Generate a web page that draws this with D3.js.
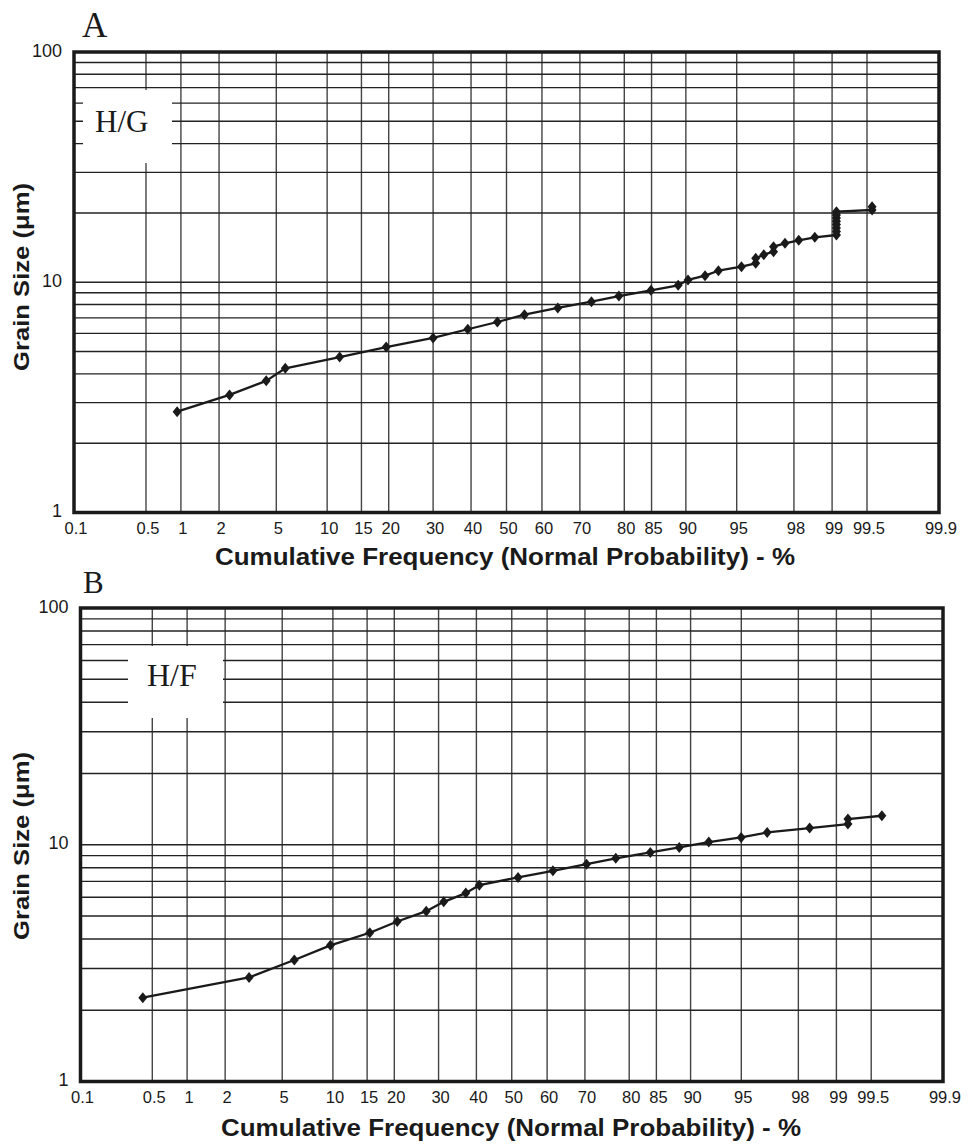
<!DOCTYPE html>
<html>
<head>
<meta charset="utf-8">
<script src="https://cdn.jsdelivr.net/npm/d3@7"></script>
<style>
  html, body { margin: 0; padding: 0; background: #fff; }
  svg { display: block; }
  text { font-family: "Liberation Sans", Arial, sans-serif; fill: #1a1a1a; }
  .serif { font-family: "Liberation Serif", "Times New Roman", serif; }
</style>
</head>
<body>
<svg id="chart" width="968" height="1144"></svg>
<script>
// ---------------- DATA ----------------
const xTickLabels = [0.1, 0.5, 1, 2, 5, 10, 15, 20, 30, 40, 50, 60, 70, 80, 85, 90, 95, 98, 99, 99.5, 99.9];
const yGridValues = [2, 3, 4, 5, 6, 7, 8, 9, 10, 20, 30, 40, 50, 60, 70, 80, 90];
const yTickLabels = [1, 10, 100];

// Panel A (H/G)
const pctA  = [0.93, 2.39, 4.30, 5.7, 11.66, 19.5, 30.0, 39.1, 47.4, 55.1, 64.3, 72.8, 78.9, 84.9, 89.0,
               90.27, 92.2, 93.5, 95.34, 96.25, 96.25, 96.7, 97.18, 97.18, 97.67, 98.16, 98.62,
               99.08, 99.08, 99.08, 99.08, 99.08, 99.08, 99.08, 99.08, 99.55, 99.55];
const sizeA = [2.74, 3.24, 3.73, 4.23, 4.73, 5.23, 5.73, 6.25, 6.72, 7.23, 7.73, 8.23, 8.71, 9.22, 9.70,
               10.23, 10.68, 11.22, 11.68, 12.09, 12.70, 13.18, 13.57, 14.27, 14.76, 15.21, 15.67,
               16.04, 16.6, 17.2, 17.8, 18.4, 19.0, 19.6, 20.25, 20.6, 21.3];

// Panel B (H/F)
const pctB  = [0.41, 2.99, 5.96, 9.69, 15.45, 20.6, 27.0, 31.3, 37.1, 40.8, 51.8, 61.6, 70.4, 77.2,
               83.96, 88.5, 92.1, 94.99, 96.64, 98.36, 99.2, 99.2, 99.6];
const sizeB = [2.26, 2.75, 3.26, 3.76, 4.25, 4.74, 5.24, 5.74, 6.25, 6.75, 7.28, 7.76, 8.28, 8.76,
               9.28, 9.74, 10.26, 10.74, 11.27, 11.76, 12.23, 12.84, 13.26];

const panelLetters = ["A", "B"];
const sampleNames = ["H/G", "H/F"];
const xTitle = "Cumulative Frequency (Normal Probability) - %";
const yTitle = "Grain Size (μm)";

// ---------------- inverse normal CDF (probit) ----------------
function probit(p) {
  const a = [-3.969683028665376e+01, 2.209460984245205e+02, -2.759285104469687e+02, 1.383577518672690e+02, -3.066479806614716e+01, 2.506628277459239e+00];
  const b = [-5.447609879822406e+01, 1.615858368580409e+02, -1.556989798598866e+02, 6.680131188771972e+01, -1.328068155288572e+01];
  const c = [-7.784894002430293e-03, -3.223964580411365e-01, -2.400758277161838e+00, -2.549732539343734e+00, 4.374664141464968e+00, 2.938163982698783e+00];
  const d = [7.784695709041462e-03, 3.224671290700398e-01, 2.445134137142996e+00, 3.754408661907416e+00];
  const pl = 0.02425, ph = 1 - pl;
  let q, r;
  if (p < pl) {
    q = Math.sqrt(-2 * Math.log(p));
    return (((((c[0]*q+c[1])*q+c[2])*q+c[3])*q+c[4])*q+c[5]) / ((((d[0]*q+d[1])*q+d[2])*q+d[3])*q+1);
  } else if (p <= ph) {
    q = p - 0.5; r = q * q;
    return (((((a[0]*r+a[1])*r+a[2])*r+a[3])*r+a[4])*r+a[5])*q / (((((b[0]*r+b[1])*r+b[2])*r+b[3])*r+b[4])*r+1);
  } else {
    q = Math.sqrt(-2 * Math.log(1 - p));
    return -(((((c[0]*q+c[1])*q+c[2])*q+c[3])*q+c[4])*q+c[5]) / ((((d[0]*q+d[1])*q+d[2])*q+d[3])*q+1);
  }
}
const zOf = pct => probit(pct / 100);

// ---------------- layout ----------------
const panels = [
  { letter: panelLetters[0], name: sampleNames[0], pct: pctA, size: sizeA,
    left: 74, right: 939, top: 52, bottom: 512.5,
    letterX: 82, letterY: 36.5, letterSize: 35,
    box: { x: 83, y: 90, w: 89, h: 73 }, nameX: 95, nameY: 132, nameSize: 31,
    xTitleX: 505, xTitleY: 564.5, yTitleY: 277 },
  { letter: panelLetters[1], name: sampleNames[1], pct: pctB, size: sizeB,
    left: 80.5, right: 943, top: 608, bottom: 1081.5,
    letterX: 83, letterY: 592.5, letterSize: 31,
    box: { x: 128, y: 646, w: 95, h: 72 }, nameX: 147, nameY: 686, nameSize: 32,
    xTitleX: 511, xTitleY: 1136, yTitleY: 846 }
];

const svg = d3.select("#chart");
const diamond = "M0,-5.5L4.5,0L0,5.5L-4.5,0Z";

panels.forEach(P => {
  const g = svg.append("g");
  const x = d3.scaleLinear().domain([zOf(0.1), zOf(99.9)]).range([P.left, P.right]);
  const y = d3.scaleLog().domain([1, 100]).range([P.bottom, P.top]);
  const h = P.bottom - P.top;

  // vertical grid
  const vGrid = xTickLabels.slice(1, -1);
  g.append("g").selectAll("line").data(vGrid).join("line")
    .attr("x1", d => x(zOf(d))).attr("x2", d => x(zOf(d)))
    .attr("y1", P.top).attr("y2", P.bottom)
    .attr("stroke", "#444").attr("stroke-width", 1.4);

  // horizontal grid
  g.append("g").selectAll("line").data(yGridValues).join("line")
    .attr("x1", P.left).attr("x2", P.right)
    .attr("y1", d => y(d)).attr("y2", d => y(d))
    .attr("stroke", "#222").attr("stroke-width", 1.4);

  // white label box
  g.append("rect").attr("x", P.box.x).attr("y", P.box.y)
    .attr("width", P.box.w).attr("height", P.box.h).attr("fill", "#fff");
  g.append("text").attr("class", "serif")
    .attr("x", P.nameX).attr("y", P.nameY)
    .attr("font-size", P.nameSize).text(P.name);

  // x tick labels
  g.append("g").selectAll("text").data(xTickLabels).join("text")
    .attr("x", d => x(zOf(d)) + 2).attr("y", P.bottom + 21)
    .attr("text-anchor", "middle").attr("font-size", 16.5)
    .text(d => d);

  // y tick labels
  g.append("g").selectAll("text").data(yTickLabels).join("text")
    .attr("x", P.left - 12).attr("y", d => y(d) + 4.5)
    .attr("text-anchor", "end").attr("font-size", 18)
    .text(d => d);

  // data line + markers
  const pts = P.pct.map((p, i) => [x(zOf(p)), y(P.size[i])]);
  g.append("path").datum(pts)
    .attr("d", d3.line())
    .attr("fill", "none").attr("stroke", "#1a1a1a").attr("stroke-width", 2.3)
    .attr("stroke-linejoin", "round");
  g.append("g").selectAll("path").data(pts).join("path")
    .attr("d", diamond)
    .attr("transform", d => `translate(${d[0]},${d[1]})`)
    .attr("fill", "#1a1a1a");

  // border
  g.append("rect").attr("x", P.left).attr("y", P.top)
    .attr("width", P.right - P.left).attr("height", h)
    .attr("fill", "none").attr("stroke", "#1a1a1a").attr("stroke-width", 3.5);

  // panel letter
  g.append("text").attr("class", "serif")
    .attr("x", P.letterX).attr("y", P.letterY)
    .attr("font-size", P.letterSize).text(P.letter);

  // axis titles
  g.append("text")
    .attr("x", P.xTitleX).attr("y", P.xTitleY)
    .attr("text-anchor", "middle").attr("font-size", 23).attr("font-weight", "bold")
    .attr("textLength", 580).attr("lengthAdjust", "spacingAndGlyphs")
    .text(xTitle);
  g.append("text")
    .attr("transform", `translate(29,${P.yTitleY}) rotate(-90)`)
    .attr("text-anchor", "middle").attr("font-size", 22).attr("font-weight", "bold")
    .attr("textLength", 188).attr("lengthAdjust", "spacingAndGlyphs")
    .text(yTitle);
});
</script>
</body>
</html>
